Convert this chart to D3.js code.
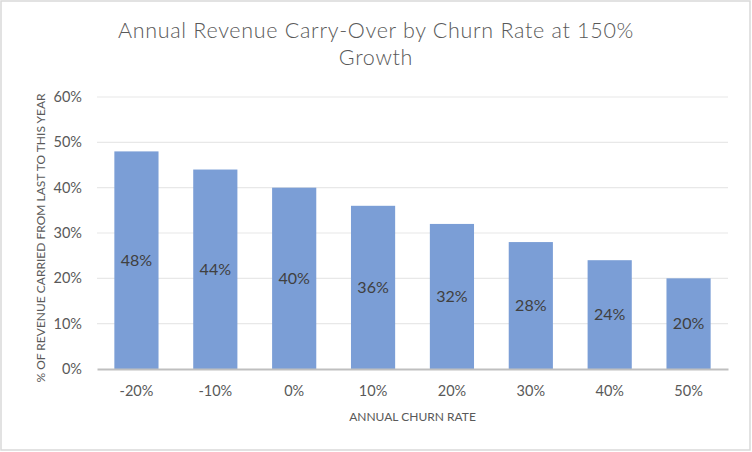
<!DOCTYPE html>
<html><head><meta charset="utf-8">
<script src="https://cdn.jsdelivr.net/npm/d3@7"></script>
<style>body{margin:0;background:#fff;} svg{display:block;font-family:Lato, "Open Sans", sans-serif;}</style>
</head><body>
<svg id="c" width="752" height="452"></svg>
<script>
const categories = ["-20%","-10%","0%","10%","20%","30%","40%","50%"];
const values = [48,44,40,36,32,28,24,20];
const yTicks = [0,10,20,30,40,50,60];
const titleLines = ["Annual Revenue Carry-Over by Churn Rate at 150%","Growth"];
const xTitle = "ANNUAL CHURN RATE";
const yTitle = "% OF REVENUE CARRIED FROM LAST TO THIS YEAR";

const svg = d3.select("#c");
const m = {left:97, right:24, top:97, bottom:83};
const W = 752, H = 452;
svg.append("rect").attr("x",1).attr("y",1).attr("width",W-3).attr("height",H-3)
  .attr("fill","#fff").attr("stroke","#d9d9d9").attr("stroke-width",1.5);

const x = d3.scaleBand().domain(categories).range([m.left, W-m.right]).paddingInner(0.44).paddingOuter(0.22);
const y = d3.scaleLinear().domain([0,60]).range([H-m.bottom, m.top]);

// gridlines
svg.append("g").selectAll("line").data(yTicks.filter(d=>d>0)).join("line")
  .attr("x1",m.left).attr("x2",W-m.right).attr("y1",d=>y(d)).attr("y2",d=>y(d))
  .attr("stroke","#e8e8e8").attr("stroke-width",1.2);

// y axis labels
const yAxis = d3.axisLeft(y).tickValues(yTicks).tickFormat(d=>d+"%").tickSize(0).tickPadding(15);
const ya = svg.append("g").attr("transform",`translate(${m.left},0)`).call(yAxis);
ya.select(".domain").remove();
ya.selectAll("text").attr("font-size",14.5).attr("fill","#595959").attr("font-family","Lato, sans-serif");

// bars
svg.append("g").selectAll("rect").data(values).join("rect")
  .attr("x",(d,i)=>x(categories[i])).attr("width",x.bandwidth())
  .attr("y",d=>y(d)).attr("height",d=>y(0)-y(d)).attr("fill","#7b9ed6");

// data labels
svg.append("g").selectAll("text").data(values).join("text")
  .attr("x",(d,i)=>x(categories[i])+x.bandwidth()/2)
  .attr("y",d=>(y(d)+y(0))/2).attr("dy","0.35em")
  .attr("text-anchor","middle").attr("font-size",16).attr("fill","#404040")
  .text(d=>d+"%");

// x axis
const xAxis = d3.axisBottom(x).tickSize(0).tickPadding(17);
const xa = svg.append("g").attr("transform",`translate(0,${y(0)})`).call(xAxis);
xa.select(".domain").attr("stroke","#bfbfbf").attr("stroke-width",2.2);
xa.selectAll("text").attr("font-size",14.5).attr("fill","#595959").attr("font-family","Lato, sans-serif");

// axis titles
svg.append("text").attr("x",(m.left+W-m.right)/2).attr("y",421).attr("text-anchor","middle")
  .attr("font-size",12).attr("fill","#595959").text(xTitle);
svg.append("text").attr("transform",`translate(45,${(m.top+H-m.bottom)/2+5}) rotate(-90)`)
  .attr("text-anchor","middle").attr("font-size",12).attr("fill","#595959").text(yTitle);

// title
svg.append("g").selectAll("text").data(titleLines).join("text")
  .attr("x",376).attr("y",(d,i)=>38+i*27).attr("text-anchor","middle")
  .attr("font-size",21.5).attr("font-weight",300).attr("fill","#595959").attr("letter-spacing",0.7).text(d=>d);
</script>
</body></html>
